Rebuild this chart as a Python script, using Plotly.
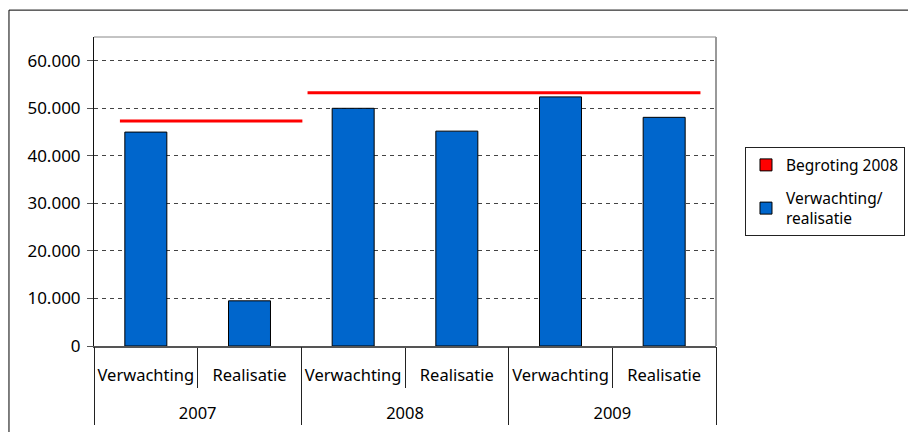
import plotly.graph_objects as go

years = ["2007", "2007", "2008", "2008", "2009", "2009"]
kinds = ["Verwachting", "Realisatie", "Verwachting", "Realisatie", "Verwachting", "Realisatie"]
values = [45000, 9500, 50000, 45200, 52400, 48100]
year_groups = ["2007", "2008", "2009"]

# Begroting 2008: budget levels with their spans (in category-index units)
budget_2007_x = [-0.25, 1.51]
budget_2007_y = [47350, 47350]
budget_0809_x = [1.56, 5.35]
budget_0809_y = [53250, 53250]

y_ticks = [0, 10000, 20000, 30000, 40000, 50000, 60000]
y_ticktext = ["0", "10.000", "20.000", "30.000", "40.000", "50.000", "60.000"]

FONT = "Noto Sans"
BLUE = "#0066CC"
RED = "#FF0000"
TXT = "#000000"

cat_ids = [f"{y} {k}" for y, k in zip(years, kinds)]

fig = go.Figure()

# legend proxy for the budget (square symbol, as in the original)
fig.add_trace(go.Bar(x=[year_groups[0]], y=[None], name="Begroting 2008",
                     marker=dict(color=RED, line=dict(color="black", width=1)),
                     xaxis="x3", showlegend=True, hoverinfo="skip",
                     legendgroup="a"))

fig.add_trace(go.Bar(x=cat_ids, y=values, name="Verwachting/<br>realisatie",
                     marker=dict(color=BLUE, line=dict(color="black", width=1)),
                     width=0.405, legendgroup="b"))

fig.add_trace(go.Scatter(x=budget_2007_x, y=budget_2007_y, mode="lines",
                         line=dict(color=RED, width=3), xaxis="x2",
                         showlegend=False))
fig.add_trace(go.Scatter(x=budget_0809_x, y=budget_0809_y, mode="lines",
                         line=dict(color=RED, width=3), xaxis="x2",
                         showlegend=False))

fig.update_layout(
    width=908, height=432,
    margin=dict(l=94, r=192, t=37, b=86, autoexpand=False),
    paper_bgcolor="white", plot_bgcolor="white",
    font=dict(family=FONT, size=16.5, color=TXT),
    showlegend=True,
    barmode="overlay",
    xaxis=dict(
        type="category",
        categoryorder="array", categoryarray=cat_ids,
        tickmode="array", tickvals=cat_ids, ticktext=kinds,
        range=[-0.5, 5.5],
        showline=True, linecolor="#555555", linewidth=2,
        ticks="outside", tickson="boundaries", ticklen=40,
        tickcolor="#222222", tickwidth=1,
        ticklabelstandoff=13, tickangle=0,
        showgrid=False, zeroline=False, mirror=False,
        tickfont=dict(family=FONT, size=16.5, color=TXT),
        automargin=False,
    ),
    xaxis2=dict(
        overlaying="x", range=[-0.5, 5.5], visible=False,
        showgrid=False, zeroline=False,
    ),
    xaxis3=dict(
        type="category", overlaying="x", side="bottom", anchor="y",
        categoryorder="array", categoryarray=year_groups,
        tickmode="array", tickvals=year_groups, ticktext=year_groups,
        range=[-0.5, 2.5],
        showline=False,
        ticks="outside", tickson="boundaries", ticklen=78,
        tickcolor="#222222", tickwidth=1,
        ticklabelstandoff=55, tickangle=0,
        showgrid=False, zeroline=False,
        tickfont=dict(family=FONT, size=16.5, color=TXT),
        automargin=False,
    ),
    yaxis=dict(
        range=[0, 65000],
        tickvals=y_ticks, ticktext=y_ticktext,
        showgrid=True, gridcolor="#444444", griddash="4px,4px", gridwidth=1,
        showline=True, linecolor="#111111", linewidth=1,
        ticks="outside", ticklen=6, tickcolor="#555555",
        ticklabelstandoff=3,
        zeroline=False, automargin=False,
        tickfont=dict(family=FONT, size=17, color=TXT),
    ),
    legend=dict(
        x=1.0466, y=0.643, xanchor="left", yanchor="top",
        bordercolor="#222222", borderwidth=1, bgcolor="white",
        font=dict(family=FONT, size=15.5, color=TXT),
        traceorder="grouped", itemclick=False,
        tracegroupgap=10,
    ),
    shapes=[
        # plot-area frame (top and right, gray)
        dict(type="line", xref="paper", yref="paper", x0=0, x1=1, y0=1, y1=1,
             line=dict(color="#888888", width=1)),
        dict(type="line", xref="paper", yref="paper", x0=1, x1=1, y0=0, y1=1,
             line=dict(color="#999999", width=2)),
        # chart-area frame (left and top edges visible)
        dict(type="rect", xref="paper", yref="paper",
             x0=-0.1367, x1=1.5, y0=-0.5, y1=1.087,
             line=dict(color="black", width=1), fillcolor="rgba(0,0,0,0)",
             layer="below"),
    ],
)

fig.write_html(
    "out.html",
    config={"displayModeBar": False},
    post_script="document.body.style.margin='0';document.body.style.overflow='hidden';",
)
